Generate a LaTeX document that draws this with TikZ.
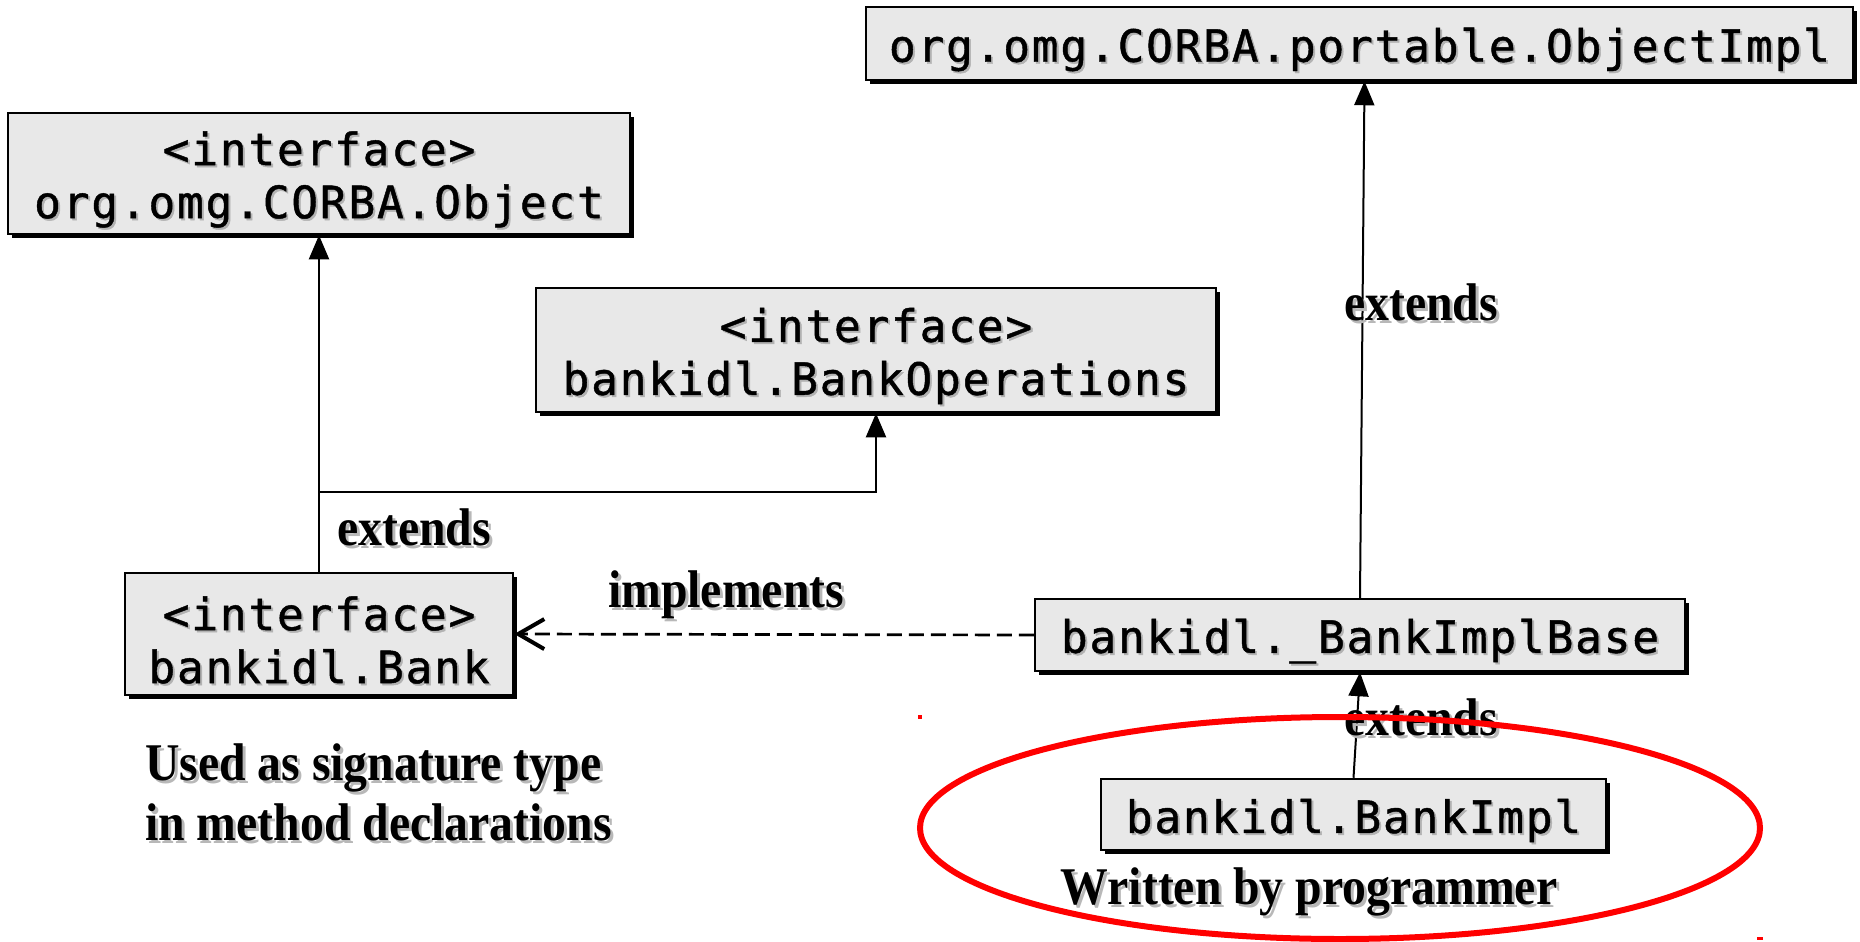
\documentclass[tikz,border=0pt]{standalone}
\usepackage{fontspec}
\usetikzlibrary{arrows.meta,shadows}
\newfontfamily\boxfont{DejaVu Sans Mono}[LetterSpace=4,FakeBold=1]
\newfontfamily\lblfont{Liberation Serif Bold}[FakeStretch=0.9]
% text with a soft grey shadow behind it, set slightly below the box centre
\newcommand\shbox[1]{\raisebox{-7pt}[\height][\depth]{\rlap{\kern2pt\raisebox{-2pt}{\color{black!30}#1}}#1}}
\newcommand\shlbl[1]{\leavevmode\rlap{\kern3pt\raisebox{-3pt}{\color{black!28}#1}}#1}
\tikzset{
  umlbox/.style={draw, line width=2.5pt, fill=black!9, inner sep=0pt,
    font={\boxfont\fontsize{44.5}{53}\selectfont}, align=center,
    drop shadow={shadow xshift=4pt, shadow yshift=-4pt, fill=black, opacity=1}},
  ext/.style={line width=2pt, -{Triangle[length=24pt,width=20pt]}},
  realize/.style={line width=2.7pt, dash pattern=on 15pt off 7pt,
    -{Straight Barb[length=26pt,width=30pt,line width=4pt]}},
  lbl/.style={font={\lblfont\fontsize{53}{60}\selectfont}, inner sep=0pt},
}
\begin{document}
\begin{tikzpicture}[x=1pt,y=-1pt]
\fill[white] (0,0) rectangle (1860,942);
\useasboundingbox (0,0) rectangle (1860,942);

% classes and interfaces
\node[umlbox, minimum width=987pt, minimum height=73pt] (objimpl) at (1359.5,43.5)
  {\shbox{org.omg.CORBA.portable.ObjectImpl}};
\node[umlbox, minimum width=622pt, minimum height=121pt] (corbaobj) at (319,173.5)
  {\shbox{<interface>}\\\shbox{org.omg.CORBA.Object}};
\node[umlbox, minimum width=680pt, minimum height=124pt] (ops) at (876,350)
  {\shbox{<interface>}\\\shbox{bankidl.BankOperations}};
\node[umlbox, minimum width=388pt, minimum height=122pt] (bank) at (319,634)
  {\shbox{<interface>}\\\shbox{bankidl.Bank}};
\node[umlbox, minimum width=650pt, minimum height=72pt] (base) at (1360,635)
  {\shbox{bankidl.\_BankImplBase}};
\node[umlbox, minimum width=505pt, minimum height=71pt] (bimpl) at (1353.5,814.5)
  {\shbox{bankidl.BankImpl}};

% inheritance
\coordinate (branch) at (319,492);
\draw[ext] (bank.north) -- (corbaobj.south);
\draw[ext] (branch) -| (ops.south);
\draw[ext] (base.north) -- ([xshift=5pt]objimpl.south);
\draw[ext] (bimpl.north) -- (base.south);
\draw[realize] (base.west) -- (bank.east);

% labels
\node[lbl, anchor=base west] (extA) at (337,545) {\shlbl{extends}};
\node[lbl, anchor=base west] (implLbl) at (608,607) {\shlbl{implements}};
\node[lbl, anchor=base west] (extB) at (1344,320) {\shlbl{extends}};
\node[lbl, anchor=base west] (extC) at (1344,735) {\shlbl{extends}};
\node[lbl, anchor=base west] (usage) at (145,780)
  {\begin{tabular}[t]{@{}l@{}}\shlbl{Used as signature type}\\\shlbl{in method declarations}\end{tabular}};
\node[lbl, anchor=base] (author) at (1309,904) {\shlbl{Written by programmer}};

% highlight round the hand-written class
\draw[red, line width=6pt] (1340,828) ellipse [x radius=420pt, y radius=111pt];
\fill[red] (918,715) rectangle (922,719);
\fill[red] (1757,937) rectangle (1763,940);
\end{tikzpicture}
\end{document}
